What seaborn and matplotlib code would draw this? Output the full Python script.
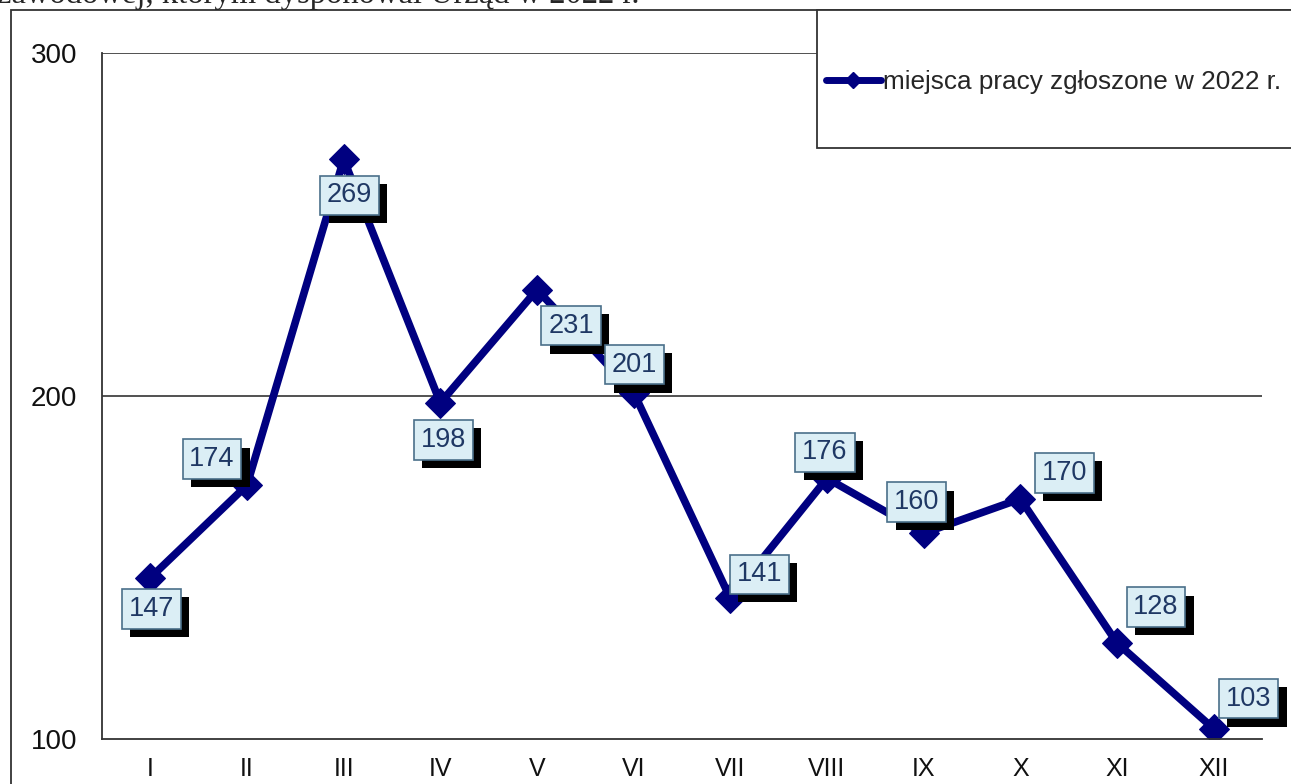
import matplotlib
matplotlib.use("Agg")
import matplotlib.pyplot as plt
import matplotlib.patheffects as pe
from matplotlib.patches import Rectangle
from matplotlib.lines import Line2D
import seaborn as sns
import pandas as pd

months = ["I", "II", "III", "IV", "V", "VI", "VII", "VIII", "IX", "X", "XI", "XII"]
offers_2022 = [147, 174, 269, 198, 231, 201, 141, 176, 160, 170, 128, 103]
# where each value box sits relative to its point (pixels, y up)
label_offsets = [(1, -31), (-35, 26), (6, -36), (3, -37), (34, -36), (1, 28),
                 (29, 24), (-2, 26), (-7, 31), (44, 26), (39, 36), (35, 30)]
series_name = "miejsca pracy zgłoszone w 2022 r."
y_ticks = [100, 200, 300]

navy = "#000080"

sns.set_theme(style="white")
plt.rcParams["font.family"] = ["Liberation Sans", "DejaVu Sans"]

W, H = 1291, 784
fig = plt.figure(figsize=(W / 100, H / 100), dpi=100)
ax = fig.add_axes([102 / W, (H - 739) / H, (1262 - 102) / W, (739 - 53) / H])

df = pd.DataFrame({"miesiąc": months, "oferty": offers_2022})
sns.lineplot(data=df, x="miesiąc", y="oferty", ax=ax, color=navy, lw=5.5,
             marker="D", markersize=15, markeredgecolor=navy, sort=False)

ax.set_xlim(-0.5, len(months) - 0.5)
ax.set_ylim(100, 300)
ax.set_yticks(y_ticks)
ax.set_yticklabels([str(t) for t in y_ticks], fontsize=20)
ax.set_xticks(range(len(months)))
ax.set_xticklabels(months, fontsize=18)
ax.set_xticks([i - 0.5 for i in range(len(months) + 1)], minor=True)
ax.tick_params(axis="x", which="major", length=0, pad=13, colors="#111111")
ax.tick_params(axis="x", which="minor", length=7, width=1.2, color="#333333", direction="out")
ax.tick_params(axis="y", length=8, width=1.2, direction="out", pad=10, colors="#111111")
ax.tick_params(axis="y", which="major", color="#333333")
ax.set_xlabel("")
ax.set_ylabel("")

for s in ["top", "right"]:
    ax.spines[s].set_visible(False)
for s in ["left", "bottom"]:
    ax.spines[s].set_color("#333333")
    ax.spines[s].set_linewidth(1.3)
for t in [200, 300]:
    ax.axhline(t, color="#333333", lw=1.2, zorder=1)

for i, (v, off) in enumerate(zip(offers_2022, label_offsets)):
    t = ax.annotate(str(v), (i, v), xytext=off, textcoords="offset pixels",
                    ha="center", va="center", fontsize=19.5, color="#1f3864", zorder=5,
                    bbox=dict(boxstyle="square,pad=0.25", fc="#dbeef5", ec="#4a6f8a", lw=1.2))
    t.get_bbox_patch().set_path_effects([
        pe.SimplePatchShadow(offset=(6, -6), shadow_rgbFace="black", alpha=1),
        pe.Normal()])

# outer chart frame and legend box (both run off the page edge)
fig.patches.append(Rectangle((11 / W, -0.05), 1.1, (H - 10) / H + 0.05, transform=fig.transFigure,
                             fill=False, ec="#333333", lw=1.3))
fig.patches.append(Rectangle((817 / W, (H - 148) / H), 0.5, (148 - 10) / H, transform=fig.transFigure,
                             fc="white", ec="#333333", lw=1.3, zorder=3))

handle = Line2D([], [], color=navy, lw=5, marker="D", markersize=8)
fig.legend([handle], [series_name], loc="center left", bbox_to_anchor=(826 / W, (H - 82) / H),
           frameon=False, fontsize=18.8, handlelength=2.1, handletextpad=0.08, borderaxespad=0,
           borderpad=0)

fig.text(-0.002, 1 - 3 / H, "zawodowej, którym dysponował Urząd w 2022 r.",
         family=["Liberation Serif", "DejaVu Serif"], fontsize=23.5, va="baseline", ha="left")

fig.savefig("out.png", dpi=100)
